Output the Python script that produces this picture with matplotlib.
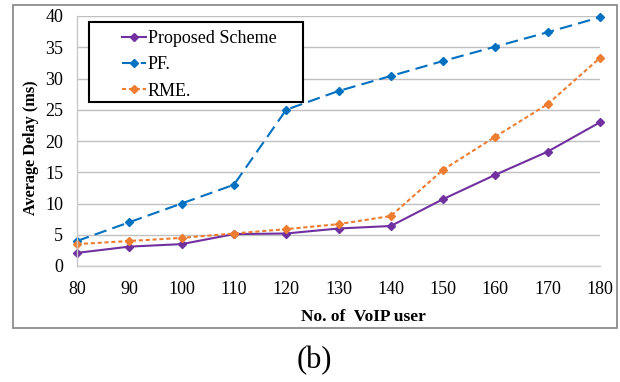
import matplotlib.pyplot as plt
from matplotlib.patches import Rectangle

plt.rcParams['font.family'] = ['Liberation Serif', 'DejaVu Serif']

# Average delay vs. number of VoIP users
users = [80, 90, 100, 110, 120, 130, 140, 150, 160, 170, 180]
proposed = [2.1, 3.1, 3.5, 5.1, 5.2, 6.0, 6.4, 10.7, 14.6, 18.3, 23.0]
pf = [4.0, 7.0, 10.0, 13.0, 25.0, 28.0, 30.4, 32.8, 35.1, 37.4, 39.8]
rme = [3.5, 4.0, 4.5, 5.2, 5.9, 6.7, 8.0, 15.4, 20.7, 25.9, 33.3]

W, H = 620, 382
fig = plt.figure(figsize=(W / 100, H / 100), dpi=100)
ax = fig.add_axes([77 / W, 1 - 266 / H, 523 / W, 250 / H])

# outer chart frame
fig.patches.append(Rectangle((13 / W, 1 - 328 / H), 604 / W, 323 / H,
                             transform=fig.transFigure, fill=False,
                             edgecolor='#8c8c8c', linewidth=1.3))

ax.plot(users, proposed, color='#7030A0', linestyle='-', linewidth=1.5,
        marker='D', markersize=4.5, label='Proposed Scheme', clip_on=False)
ax.plot(users, pf, color='#0070C0', linestyle=(0, (6, 3)), linewidth=1.5,
        marker='D', markersize=4.5, label='PF.', clip_on=False)
ax.plot(users, rme, color='#ED7D31', linestyle=(0, (2, 1.3)), linewidth=1.5,
        marker='D', markersize=4.5, label='RME.', clip_on=False)

ax.set_xlim(80, 180)
ax.set_ylim(0, 40)
ax.set_xticks(users)
ax.set_yticks(range(0, 41, 5))
ax.tick_params(length=0, labelsize=13)
ax.tick_params(axis='y', pad=10)
ax.tick_params(axis='x', pad=11)
ax.grid(axis='y', color='#c0c0c0', linewidth=1)
ax.set_axisbelow(True)
for s in ['top', 'right']:
    ax.spines[s].set_visible(False)
for s in ['left', 'bottom']:
    ax.spines[s].set_color('#c8c8c8')
    ax.spines[s].set_linewidth(1)

fig.text(31 / W, 1 - 148 / H, 'Average Delay (ms)', rotation=90,
         ha='center', va='center', fontsize=11.7, fontweight='bold')
fig.text(363 / W, 1 - 317 / H, 'No. of  VoIP user',
         ha='center', va='center', fontsize=12.5, fontweight='bold')
fig.text(314 / W, 1 - 361 / H, '(b)', ha='center', va='center', fontsize=22)

# legend box with wide inner margins
ax.add_patch(Rectangle((89 / W, 1 - 102 / H), 214 / W, 80 / H,
                       transform=fig.transFigure, facecolor='white',
                       edgecolor='black', linewidth=1.5, zorder=4,
                       clip_on=False))
leg = ax.legend(loc='upper left', bbox_to_anchor=(122 / W, 1 - 30 / H),
                bbox_transform=fig.transFigure, fontsize=13, frameon=False,
                handlelength=1.33, handletextpad=0.1, borderpad=0,
                labelspacing=0.52, borderaxespad=0)
leg.set_zorder(5)

fig.savefig('out.png', dpi=100)
